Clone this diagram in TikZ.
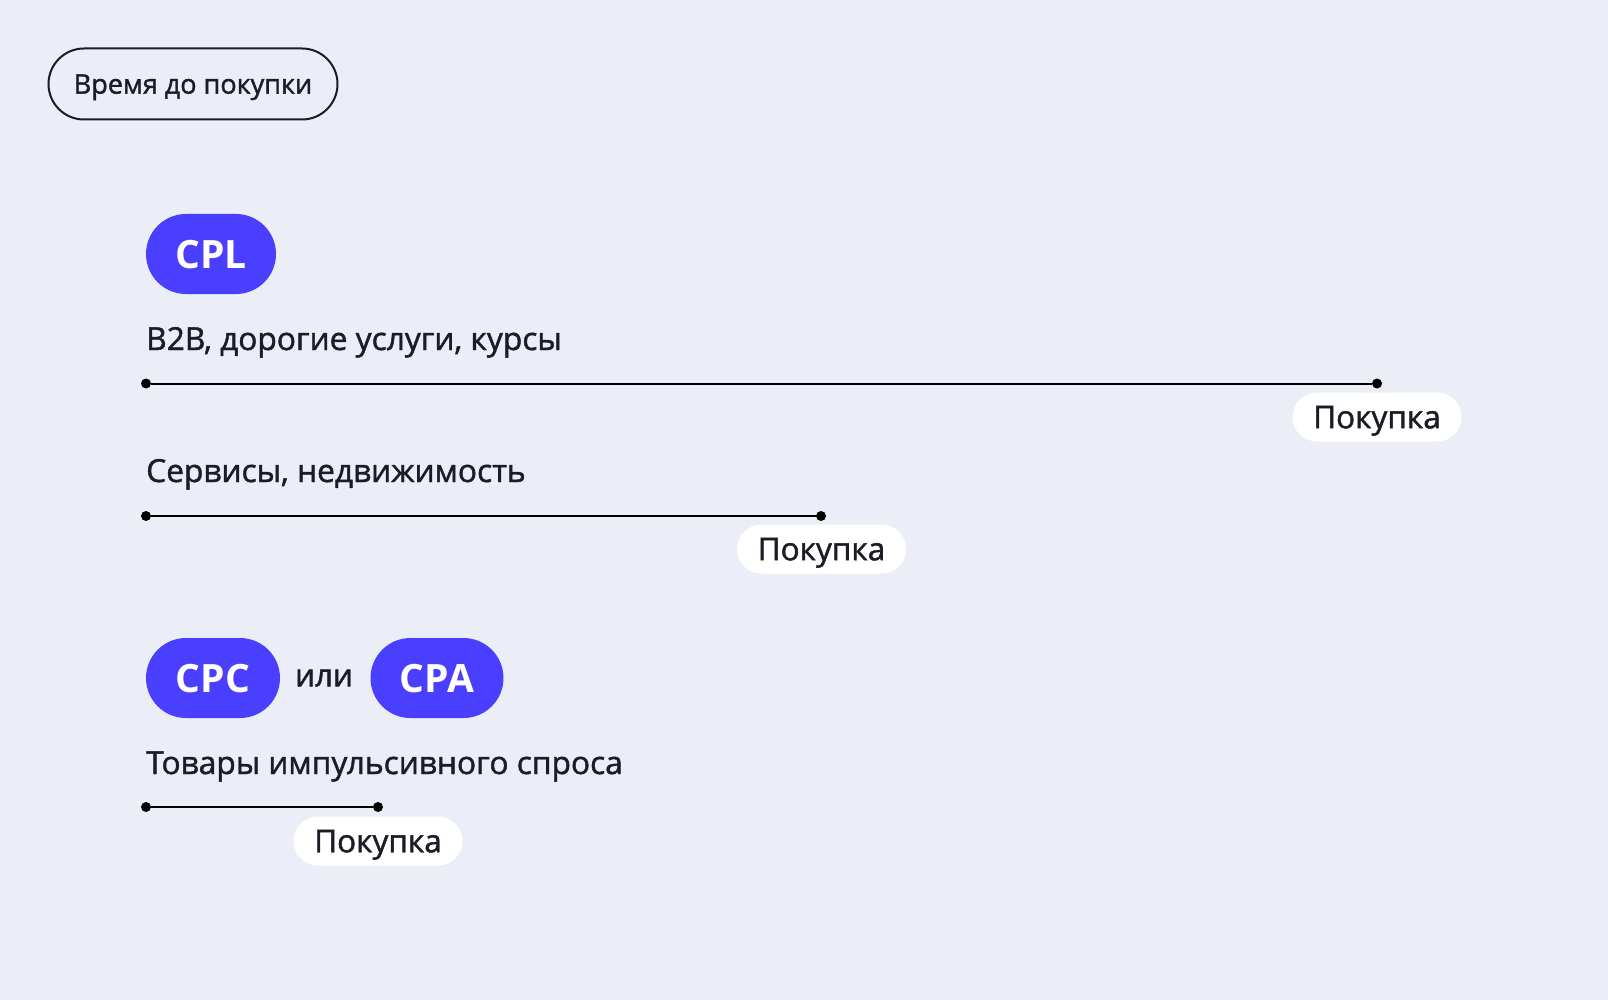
\documentclass[tikz,border=0pt]{standalone}
\usepackage{fontspec}
\setmainfont{Open Sans}
\definecolor{bg}{HTML}{EBEEF6}
\definecolor{ink}{HTML}{1B1D26}
\definecolor{violet}{HTML}{4B3FFF}
\newfontfamily\medfont[FakeBold=1.4]{Open Sans}
\tikzset{
  x=1pt, y=-1pt,
  tagpill/.style={draw=ink, line width=2pt, rounded corners=35.5pt, minimum width=289pt, minimum height=71pt, inner sep=0pt, text depth=0pt, text=ink, font=\medfont\fontsize{27}{30}\selectfont},
  model/.style={fill=violet, rounded corners=40pt, minimum height=80pt, inner sep=0pt, text depth=0pt, text=white, font=\bfseries\fontsize{39}{44}\selectfont},
  caption/.style={anchor=base west, inner sep=0pt, text=ink, font=\medfont\fontsize{31.7}{36}\selectfont},
  buy/.style={fill=white, rounded corners=24.5pt, minimum width=169pt, minimum height=49pt, inner sep=0pt, text depth=0pt, text=ink, font=\medfont\fontsize{31.5}{36}\selectfont},
  dot/.style={circle, fill=black, minimum size=10pt, inner sep=0pt},
  track/.style={line width=2pt, black}
}
\begin{document}
\begin{tikzpicture}
\fill[bg] (0,0) rectangle (1608,1000);
\useasboundingbox (0,0) rectangle (1608,1000);
\node[tagpill] (title) at (193,84) {Время до покупки};
\node[model, minimum width=130pt] (cpl) at (211,254) {CPL};
\node[caption] (c1) at (146,350) {B2B, дорогие услуги, курсы};
\node[dot] (a1) at (146,383.5) {};
\node[dot] (b1) at (1377,383.5) {};
\draw[track] (a1) -- (b1);
\node[buy] (p1) at (1377,417) {Покупка};
\node[caption] (c2) at (146,482) {Сервисы, недвижимость};
\node[dot] (a2) at (146,516) {};
\node[dot] (b2) at (821,516) {};
\draw[track] (a2) -- (b2);
\node[buy] (p2) at (821.5,549) {Покупка};
\node[model, minimum width=134pt] (cpc) at (213,678) {CPC};
\node[text=ink, inner sep=0pt, text depth=0pt, font=\medfont\fontsize{31.5}{36}\selectfont] (or) at (324,678) {или};
\node[model, minimum width=133pt] (cpa) at (437,678) {CPA};
\node[caption] (c3) at (146,774) {Товары импульсивного спроса};
\node[dot] (a3) at (146,807) {};
\node[dot] (b3) at (378,807) {};
\draw[track] (a3) -- (b3);
\node[buy] (p3) at (378,841) {Покупка};
\end{tikzpicture}
\end{document}
